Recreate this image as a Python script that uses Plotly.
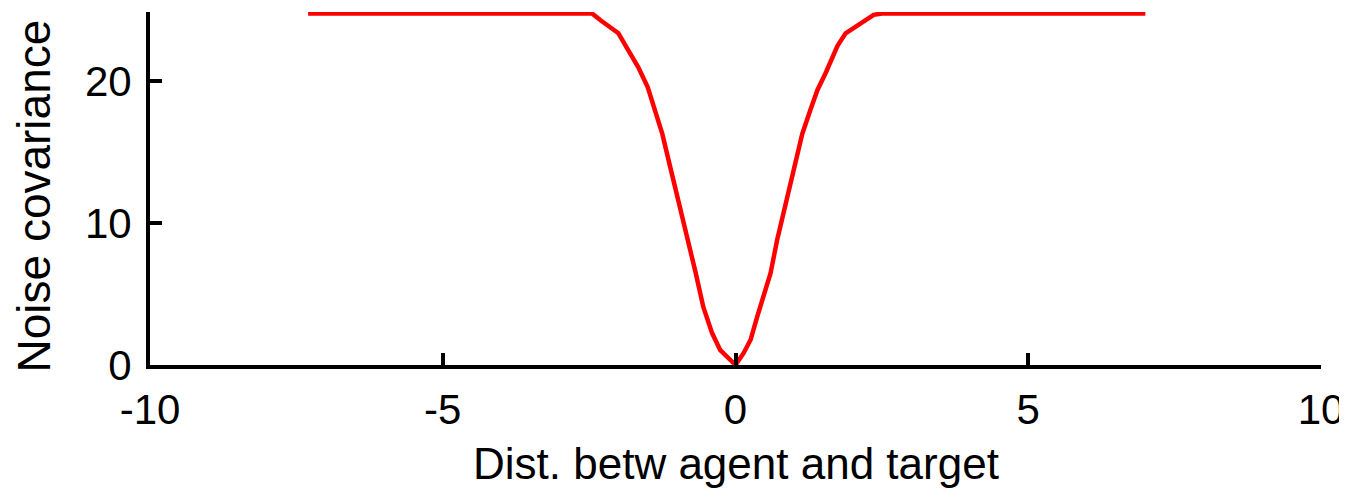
import plotly.graph_objects as go

# Data
x_vals = [-7.3, -2.45, -2.3, -2.0, -1.83, -1.66, -1.5, -1.37, -1.25, -1.14, -1.03,
          -0.91, -0.8, -0.68, -0.55, -0.4, -0.26, -0.17, 0.0, 0.14, 0.26, 0.37,
          0.48, 0.6, 0.71, 0.82, 0.9, 1.03, 1.14, 1.28, 1.4, 1.54, 1.65, 1.74,
          1.88, 2.02, 2.19, 2.36, 2.5, 7.0]
y_vals = [24.8, 24.8, 24.3, 23.4, 22.2, 21.0, 19.6, 18.0, 16.3, 14.4, 12.5,
          10.7, 8.8, 6.5, 4.1, 2.25, 1.05, 0.7, 0.0, 0.85, 1.8, 3.4,
          4.8, 6.5, 8.8, 10.7, 12.3, 14.4, 16.3, 18.0, 19.4, 20.6, 21.7, 22.5,
          23.4, 23.8, 24.3, 24.7, 24.8, 24.8]

x_ticks = [-10, -5, 0, 5, 10]
y_ticks = [0, 10, 20]
x_title = "Dist. betw agent and target"
y_title = "Noise covariance"

FONT = "Liberation Sans"

fig = go.Figure()
fig.add_trace(go.Scatter(x=x_vals, y=y_vals, mode="lines",
                         line=dict(color="#ff0000", width=4.5),
                         showlegend=False, hoverinfo="skip"))

# page body has an 8px default margin, so the figure is sized/offset to compensate
# (and kept short enough that the page does not overflow the window vertically)
fig.update_layout(
    width=1339, height=483,
    margin=dict(l=142, r=26, t=4, b=126),
    paper_bgcolor="white", plot_bgcolor="white",
    font=dict(family=FONT, color="black", size=42),
    xaxis=dict(range=[-10, 10], tickvals=x_ticks, ticktext=[str(v) for v in x_ticks],
               showgrid=False, zeroline=False, showline=True, linecolor="black",
               linewidth=4, ticks="inside", ticklen=12, tickwidth=4, tickcolor="black",
               ticklabelstandoff=5, ticklabeloverflow="allow",
               tickfont=dict(family=FONT, size=42, color="black")),
    yaxis=dict(range=[0, 24.9], tickvals=y_ticks, ticktext=[str(v) for v in y_ticks],
               showgrid=False, zeroline=False, showline=True, linecolor="black",
               linewidth=4, ticks="inside", ticklen=12, tickwidth=4, tickcolor="black",
               ticklabelstandoff=6, tickfont=dict(family=FONT, size=42, color="black")),
    annotations=[
        dict(text=x_title, xref="paper", yref="paper", x=0.5, y=0,
             xanchor="center", yanchor="bottom", yshift=-125, showarrow=False,
             font=dict(family=FONT, size=44, color="black")),
        dict(text=y_title, xref="paper", yref="paper", x=0, y=0.5,
             xanchor="center", yanchor="middle", xshift=-117, yshift=-8,
             textangle=-90, showarrow=False,
             font=dict(family=FONT, size=46, color="black")),
    ],
)

fig.write_html("out.html")
